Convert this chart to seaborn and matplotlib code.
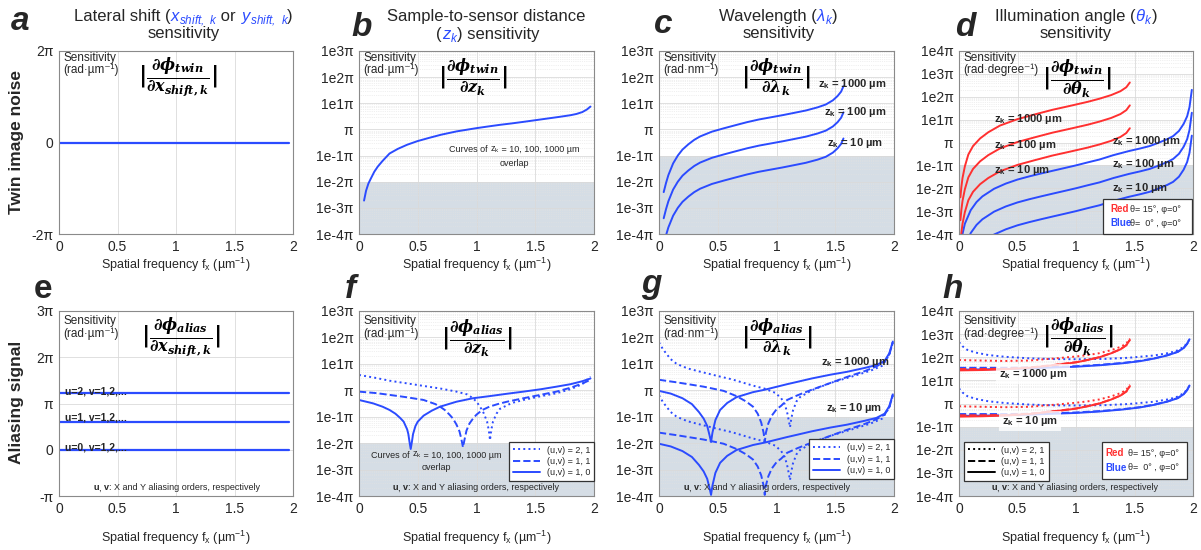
import numpy as np
import matplotlib
matplotlib.use("Agg")
import matplotlib.pyplot as plt
import seaborn as sns
from matplotlib.lines import Line2D
from matplotlib.patches import Rectangle
from matplotlib.ticker import LogLocator, NullFormatter

# ---------------------------------------------------------------- data
# all sensitivities are given in units of pi
FX_LINE = [0.0, 1.97]
TWIN_XSHIFT = [0.0, 0.0]
ALIAS_XSHIFT_U0 = [0.0, 0.0]
ALIAS_XSHIFT_U1 = [0.61, 0.61]
ALIAS_XSHIFT_U2 = [1.22, 1.22]

FX_B = [0.043, 0.06, 0.08, 0.10, 0.13, 0.16, 0.20, 0.26, 0.33, 0.41, 0.50, 0.60, 0.70, 0.83,
        1.00, 1.10, 1.20, 1.30, 1.40, 1.50, 1.60, 1.70, 1.80, 1.85, 1.90, 1.94, 1.97]
TWIN_Z = [0.0019, 0.0045, 0.0085, 0.013, 0.024, 0.038, 0.062, 0.12, 0.18, 0.26, 0.36, 0.48, 0.63, 0.84,
          1.12, 1.3, 1.5, 1.7, 1.95, 2.25, 2.6, 3.0, 3.5, 3.9, 4.6, 5.8, 7.5]

FX_C = [0.04, 0.06, 0.08, 0.12, 0.16, 0.20, 0.25, 0.30, 0.35, 0.45, 0.55, 0.65, 0.75, 0.85,
        0.95, 1.05, 1.15, 1.25, 1.35, 1.42, 1.48, 1.52, 1.55, 1.57]
TWIN_LAM_Z1000 = [4e-3, 9e-3, 1.8e-2, 5e-2, 0.10, 0.17, 0.27, 0.40, 0.54, 0.82, 1.1, 1.45, 1.9, 2.4,
                  2.9, 3.5, 4.3, 5.3, 7.0, 9.0, 13, 19, 28, 45]
TWIN_LAM_Z100 = [4e-4, 9e-4, 1.8e-3, 5e-3, 0.010, 0.017, 0.027, 0.040, 0.054, 0.082, 0.11, 0.145, 0.19, 0.24,
                 0.29, 0.35, 0.43, 0.53, 0.70, 0.90, 1.3, 1.9, 2.8, 4.5]
TWIN_LAM_Z10 = [4e-5, 9e-5, 1.8e-4, 5e-4, 1.0e-3, 1.7e-3, 2.7e-3, 4.0e-3, 5.4e-3, 8.2e-3, 0.011, 0.0145, 0.019, 0.024,
                0.029, 0.035, 0.043, 0.053, 0.070, 0.090, 0.13, 0.19, 0.28, 0.45]

FX_D_RED = [0.012, 0.02, 0.03, 0.05, 0.08, 0.12, 0.18, 0.25, 0.35, 0.50, 0.65, 0.80, 0.95, 1.10,
            1.20, 1.30, 1.38, 1.43, 1.46]
TWIN_TH15_Z1000 = [4e-3, 0.011, 0.028, 0.09, 0.30, 0.70, 1.5, 2.8, 5.5, 10.5, 17, 27, 40, 60,
                   82, 118, 175, 260, 420]
TWIN_TH15_Z100 = [4e-4, 1.1e-3, 2.8e-3, 9e-3, 0.030, 0.070, 0.15, 0.28, 0.55, 1.05, 1.7, 2.7, 4.0, 6.0,
                  8.2, 11.8, 17.5, 26, 42]
TWIN_TH15_Z10 = [4e-5, 1.1e-4, 2.8e-4, 9e-4, 3.0e-3, 7.0e-3, 0.015, 0.028, 0.055, 0.105, 0.17, 0.27, 0.40, 0.60,
                 0.82, 1.18, 1.75, 2.6, 4.2]

FX_D_BLUE = [0.03, 0.05, 0.10, 0.15, 0.20, 0.30, 0.40, 0.50, 0.60, 0.70, 0.80, 0.90, 1.00, 1.10,
             1.20, 1.32, 1.45, 1.55, 1.63, 1.70, 1.78, 1.83, 1.88, 1.92, 1.95, 1.97, 1.99]
TWIN_TH0_Z1000 = [1.0e-4, 2.8e-4, 1.1e-3, 2.5e-3, 4.4e-3, 9.5e-3, 0.016, 0.024, 0.033, 0.044, 0.058, 0.076, 0.10, 0.135,
                  0.18, 0.28, 0.42, 0.55, 0.70, 0.95, 1.4, 1.9, 3.2, 6.5, 14, 35, 200]
TWIN_TH0_Z100 = [1.0e-5, 2.8e-5, 1.1e-4, 2.5e-4, 4.4e-4, 9.5e-4, 1.6e-3, 2.4e-3, 3.3e-3, 4.4e-3, 5.8e-3, 7.6e-3, 0.010, 0.0135,
                 0.018, 0.028, 0.042, 0.055, 0.070, 0.095, 0.14, 0.19, 0.32, 0.65, 1.4, 3.5, 20]
TWIN_TH0_Z10 = [1.0e-6, 2.8e-6, 1.1e-5, 2.5e-5, 4.4e-5, 9.5e-5, 1.6e-4, 2.4e-4, 3.3e-4, 4.4e-4, 5.8e-4, 7.6e-4, 1.0e-3, 1.35e-3,
                1.8e-3, 2.8e-3, 4.2e-3, 5.5e-3, 7.0e-3, 9.5e-3, 0.014, 0.019, 0.032, 0.065, 0.14, 0.35, 2.0]

# aliasing vs. sample-to-sensor distance, orders (u,v)
FX_F_10 = [0, 0.12, 0.20, 0.26, 0.31, 0.35, 0.38, 0.41, 0.42, 0.43, 0.44, 0.45, 0.46, 0.48,
           0.50, 0.55, 0.62, 0.69, 0.83, 0.97, 1.11, 1.25, 1.40, 1.55, 1.68, 1.80, 1.90, 1.97]
ALIAS_Z_10 = [0.43, 0.32, 0.24, 0.18, 0.13, 0.09, 0.065, 0.033, 0.022, 0.011, 0.006, 0.011, 0.022, 0.044,
              0.065, 0.11, 0.17, 0.24, 0.37, 0.50, 0.60, 0.73, 0.89, 1.1, 1.37, 1.7, 2.2, 2.8]
FX_F_11 = [0, 0.15, 0.26, 0.40, 0.55, 0.65, 0.69, 0.73, 0.77, 0.80, 0.83, 0.855, 0.87, 0.885, 0.90,
           0.915, 0.94, 0.97, 1.00, 1.05, 1.11, 1.18, 1.26, 1.40, 1.55, 1.68, 1.80, 1.90, 1.97]
ALIAS_Z_11 = [0.89, 0.78, 0.67, 0.55, 0.43, 0.30, 0.24, 0.18, 0.12, 0.085, 0.05, 0.028, 0.015, 0.007, 0.015,
              0.03, 0.055, 0.085, 0.12, 0.18, 0.24, 0.30, 0.37, 0.50, 0.68, 0.89, 1.25, 1.8, 2.5]
FX_F_21 = [0, 0.15, 0.26, 0.40, 0.55, 0.70, 0.83, 0.92, 0.97, 1.00, 1.03, 1.06, 1.09, 1.105,
           1.115, 1.125, 1.14, 1.17, 1.20, 1.30, 1.40, 1.55, 1.68, 1.80, 1.90, 1.97]
ALIAS_Z_21 = [3.8, 2.9, 2.3, 1.85, 1.46, 1.15, 0.89, 0.70, 0.50, 0.37, 0.24, 0.14, 0.065, 0.03,
              0.013, 0.03, 0.065, 0.13, 0.20, 0.33, 0.43, 0.60, 0.77, 1.1, 1.7, 3.3]

# aliasing vs. wavelength
FX_G_10 = [0, 0.10, 0.20, 0.28, 0.34, 0.38, 0.41, 0.43, 0.443, 0.455, 0.48, 0.52, 0.58, 0.66,
           0.80, 0.90, 1.09, 1.18, 1.30, 1.46, 1.60, 1.75, 1.85, 1.92, 1.96, 1.99]
ALIAS_LAM_10_Z1000 = [0.95, 0.75, 0.50, 0.30, 0.15, 0.085, 0.045, 0.02, 0.011, 0.025, 0.075, 0.18, 0.33, 0.55,
                      0.85, 1.05, 1.7, 2.1, 2.8, 3.9, 5.0, 7.0, 9.0, 13, 25, 70]
ALIAS_LAM_10_Z10 = [0.0095, 0.0075, 0.005, 0.003, 0.0015, 0.00085, 0.00045, 0.0002, 0.00011, 0.00025, 0.00075, 0.0018, 0.0033, 0.0055,
                    0.0085, 0.0105, 0.017, 0.021, 0.028, 0.039, 0.05, 0.07, 0.09, 0.13, 0.25, 0.7]
FX_G_11 = [0, 0.15, 0.38, 0.55, 0.66, 0.74, 0.80, 0.84, 0.87, 0.89, 0.90, 0.91, 0.93, 0.96,
           1.00, 1.04, 1.09, 1.18, 1.30, 1.46, 1.60, 1.75, 1.85, 1.92, 1.96, 1.99]
ALIAS_LAM_11_Z1000 = [2.5, 2.0, 1.37, 0.95, 0.60, 0.38, 0.24, 0.13, 0.06, 0.025, 0.011, 0.025, 0.055, 0.11,
                      0.19, 0.26, 0.43, 0.65, 1.05, 1.9, 3.2, 5.3, 8.0, 12, 23, 65]
ALIAS_LAM_11_Z10 = [0.025, 0.02, 0.0137, 0.0095, 0.006, 0.0038, 0.0024, 0.0013, 0.0006, 0.00025, 0.00011, 0.00025, 0.00055, 0.0011,
                    0.0019, 0.0026, 0.0043, 0.0065, 0.0105, 0.019, 0.032, 0.053, 0.08, 0.12, 0.23, 0.65]
FX_G_21 = [0, 0.03, 0.06, 0.10, 0.15, 0.24, 0.34, 0.52, 0.62, 0.80, 0.90, 0.99, 1.04, 1.07,
           1.09, 1.105, 1.115, 1.125, 1.14, 1.17, 1.20, 1.30, 1.46, 1.65, 1.80, 1.90, 1.96, 1.99]
ALIAS_LAM_21_Z1000 = [65, 38, 25, 15, 10, 6.8, 5.2, 3.3, 2.6, 1.5, 1.15, 0.8, 0.5, 0.3,
                      0.15, 0.07, 0.04, 0.08, 0.17, 0.38, 0.55, 1.0, 1.9, 3.4, 5.5, 8.5, 22, 65]
ALIAS_LAM_21_Z10 = [0.65, 0.38, 0.25, 0.15, 0.10, 0.068, 0.052, 0.033, 0.026, 0.015, 0.0115, 0.008, 0.005, 0.003,
                    0.0015, 0.0007, 0.0004, 0.0008, 0.0017, 0.0038, 0.0055, 0.010, 0.019, 0.034, 0.055, 0.085, 0.22, 0.65]

# aliasing vs. illumination angle
FX_H_BLUE_DOT = [0, 0.03, 0.07, 0.14, 0.25, 0.39, 0.60, 0.82, 1.05, 1.25, 1.45, 1.67, 1.80, 1.87, 1.92, 1.95, 1.97]
H_TH0_21_Z1000 = [450, 300, 210, 160, 125, 105, 90, 83, 82, 85, 95, 120, 155, 200, 280, 400, 600]
H_TH0_21_Z10 = [4.5, 3.0, 2.1, 1.6, 1.25, 1.05, 0.90, 0.83, 0.82, 0.85, 0.95, 1.2, 1.55, 2.0, 2.8, 4.0, 6.0]
FX_H_BLUE = [0, 0.2, 0.4, 0.6, 0.8, 1.0, 1.2, 1.4, 1.55, 1.67, 1.78, 1.87, 1.92, 1.95, 1.97]
H_TH0_10_Z1000 = [29, 30, 31, 33, 36, 39, 45, 55, 68, 88, 120, 170, 250, 380, 600]
H_TH0_11_Z1000 = [35, 35, 35, 36, 38, 41, 47, 57, 70, 90, 123, 173, 255, 385, 600]
H_TH0_10_Z10 = [0.29, 0.30, 0.31, 0.33, 0.36, 0.39, 0.45, 0.55, 0.68, 0.88, 1.2, 1.7, 2.5, 3.8, 6.0]
H_TH0_11_Z10 = [0.35, 0.35, 0.35, 0.36, 0.38, 0.41, 0.47, 0.57, 0.70, 0.90, 1.23, 1.73, 2.55, 3.85, 6.0]
FX_H_RED = [0, 0.2, 0.39, 0.6, 0.82, 1.0, 1.1, 1.2, 1.3, 1.38, 1.43, 1.46]
H_TH15_21_Z1000 = [76, 72, 69, 72, 89, 108, 124, 150, 203, 280, 390, 650]
H_TH15_10_Z1000 = [27, 28, 30, 35, 46, 60, 76, 100, 148, 220, 330, 560]
H_TH15_11_Z1000 = [31, 31, 32, 36, 47, 61, 77, 101, 150, 222, 332, 565]
H_TH15_21_Z10 = [0.76, 0.72, 0.69, 0.72, 0.89, 1.08, 1.24, 1.5, 2.03, 2.8, 3.9, 6.5]
H_TH15_10_Z10 = [0.27, 0.28, 0.30, 0.35, 0.46, 0.60, 0.76, 1.0, 1.48, 2.2, 3.3, 5.6]
H_TH15_11_Z10 = [0.31, 0.31, 0.32, 0.36, 0.47, 0.61, 0.77, 1.01, 1.5, 2.22, 3.32, 5.65]

X_TICKS = [0, 0.5, 1, 1.5, 2]
X_TICK_LABELS = ["0", "0.5", "1", "1.5", "2"]
ORDER_LABELS = ["(u,v) = 2, 1", "(u,v) = 1, 1", "(u,v) = 1, 0"]

# ---------------------------------------------------------------- style
BLUE = "#2b4bff"
RED = "#ff3030"
SHADE = "#d5dde5"
GRID = "#dadada"
SPINE = "#8a8a8a"
TXT = "#262626"

sns.set_theme(style="white")
plt.rcParams["font.family"] = ["Liberation Sans", "DejaVu Sans"]
plt.rcParams["mathtext.fontset"] = "dejavusans"
plt.rcParams["mathtext.rm"] = "DejaVu Serif:bold"
plt.rcParams["mathtext.it"] = "DejaVu Serif:italic:bold"
plt.rcParams["mathtext.bf"] = "DejaVu Serif:bold"
plt.rcParams["axes.unicode_minus"] = False

W, H = 1201, 550
fig = plt.figure(figsize=(W / 100, H / 100), dpi=100)
renderer = fig.canvas.get_renderer()


def fx(x):
    return x / W


def fy(y):
    return 1 - y / H


def add_ax(l, t, r, b):
    return fig.add_axes([fx(l), fy(b), (r - l) / W, (b - t) / H])


def base_style(ax):
    ax.set_xlim(0, 2)
    ax.set_xticks(X_TICKS)
    ax.set_xticklabels(X_TICK_LABELS)
    for s in ax.spines.values():
        s.set_visible(True)
        s.set_color(SPINE)
        s.set_linewidth(0.8)
    ax.tick_params(axis="both", which="major", direction="in", length=3, width=0.6,
                   color=SPINE, labelsize=10, labelcolor=TXT, pad=4)
    ax.tick_params(axis="y", which="minor", direction="in", length=1.5, width=0.4, color=SPINE)
    ax.set_axisbelow(True)
    ax.set_facecolor("white")


def log_style(ax, top_exp, shade_top):
    base_style(ax)
    ax.set_yscale("log")
    ax.set_ylim(1e-4, 10.0 ** top_exp)
    exps = list(range(-4, top_exp + 1))
    ax.set_yticks([10.0 ** k for k in exps])
    ax.set_yticklabels(["π" if k == 0 else f"1e{k}π" for k in exps])
    ax.yaxis.set_minor_locator(LogLocator(base=10, subs=np.arange(2, 10) * 1.0, numticks=30))
    ax.yaxis.set_minor_formatter(NullFormatter())
    ax.axhspan(1e-4, shade_top, color=SHADE, lw=0, zorder=0)
    ax.grid(True, which="major", axis="both", color=GRID, lw=0.6)
    ax.grid(True, which="minor", axis="y", color="#e2e2e2", lw=0.5, ls=":")


def line(ax, x, y, color=BLUE, ls="-", lw=1.4):
    sns.lineplot(x=x, y=y, ax=ax, color=color, linestyle=ls, linewidth=lw,
                 sort=False, estimator=None, errorbar=None)
    ax.set_xlabel("")
    ax.set_ylabel("")


def text_width(s, **kw):
    t = fig.text(0, 0, "|" + s + "|", **kw)
    w1 = t.get_window_extent(renderer).width
    t.remove()
    t = fig.text(0, 0, "||", **kw)
    w0 = t.get_window_extent(renderer).width
    t.remove()
    return w1 - w0


def seg_text(x, y, parts, size, ha="center", va="baseline", zorder=6):
    widths = [text_width(s, fontsize=size, **kw) for s, kw in parts]
    x0 = x - sum(widths) / 2 if ha == "center" else x
    for (s, kw), w in zip(parts, widths):
        fig.text(fx(x0), fy(y), s, fontsize=size, ha="left", va=va, zorder=zorder, **kw)
        x0 += w


BLUE_IT = dict(color=BLUE, style="italic")
BOLD = dict(fontweight="bold")
SUP = "⁻¹"

COLS = [(59, 293), (359, 594), (659, 894), (959, 1193)]
ROW1 = (51, 234)
ROW2 = (311, 496)

axs = [add_ax(l, ROW1[0], r, ROW1[1]) for l, r in COLS] + \
      [add_ax(l, ROW2[0], r, ROW2[1]) for l, r in COLS]
ax_a, ax_b, ax_c, ax_d, ax_e, ax_f, ax_g, ax_h = axs

# ---- a: lateral shift, twin image
base_style(ax_a)
ax_a.set_ylim(-2, 2)
ax_a.set_yticks([-2, 0, 2])
ax_a.set_yticklabels(["-2π", "0", "2π"])
ax_a.grid(True, axis="x", color=GRID, lw=0.6)
line(ax_a, FX_LINE, TWIN_XSHIFT, lw=1.6)

# ---- e: lateral shift, aliasing
base_style(ax_e)
ax_e.set_ylim(-1, 3)
ax_e.set_yticks([-1, 0, 1, 2, 3])
ax_e.set_yticklabels(["-π", "0", "π", "2π", "3π"])
ax_e.grid(True, axis="both", color=GRID, lw=0.6)
for lvl in (ALIAS_XSHIFT_U0, ALIAS_XSHIFT_U1, ALIAS_XSHIFT_U2):
    line(ax_e, FX_LINE, lvl, lw=1.6)

# ---- b: distance, twin image
log_style(ax_b, 3, 1e-2)
line(ax_b, FX_B, TWIN_Z)

# ---- c: wavelength, twin image
log_style(ax_c, 3, 1e-1)
for ys in (TWIN_LAM_Z1000, TWIN_LAM_Z100, TWIN_LAM_Z10):
    line(ax_c, FX_C, ys)

# ---- d: illumination angle, twin image
log_style(ax_d, 4, 1e-1)
for ys in (TWIN_TH0_Z1000, TWIN_TH0_Z100, TWIN_TH0_Z10):
    line(ax_d, FX_D_BLUE, ys, color=BLUE)
for ys in (TWIN_TH15_Z1000, TWIN_TH15_Z100, TWIN_TH15_Z10):
    line(ax_d, FX_D_RED, ys, color=RED)

# ---- f: distance, aliasing
log_style(ax_f, 3, 1e-2)
line(ax_f, FX_F_21, ALIAS_Z_21, ls=":")
line(ax_f, FX_F_11, ALIAS_Z_11, ls="--")
line(ax_f, FX_F_10, ALIAS_Z_10, ls="-")

# ---- g: wavelength, aliasing
log_style(ax_g, 3, 1e-1)
for d21, d11, d10 in ((ALIAS_LAM_21_Z1000, ALIAS_LAM_11_Z1000, ALIAS_LAM_10_Z1000),
                      (ALIAS_LAM_21_Z10, ALIAS_LAM_11_Z10, ALIAS_LAM_10_Z10)):
    line(ax_g, FX_G_21, d21, ls=":")
    line(ax_g, FX_G_11, d11, ls="--")
    line(ax_g, FX_G_10, d10, ls="-")

# ---- h: illumination angle, aliasing
log_style(ax_h, 4, 1e-1)
for d21, d11, d10 in ((H_TH0_21_Z1000, H_TH0_11_Z1000, H_TH0_10_Z1000),
                      (H_TH0_21_Z10, H_TH0_11_Z10, H_TH0_10_Z10)):
    line(ax_h, FX_H_BLUE_DOT, d21, color=BLUE, ls=":")
    line(ax_h, FX_H_BLUE, d10, color=BLUE, ls="-")
    line(ax_h, FX_H_BLUE, d11, color=BLUE, ls="--")
for d21, d11, d10 in ((H_TH15_21_Z1000, H_TH15_11_Z1000, H_TH15_10_Z1000),
                      (H_TH15_21_Z10, H_TH15_11_Z10, H_TH15_10_Z10)):
    line(ax_h, FX_H_RED, d21, color=RED, ls=":")
    line(ax_h, FX_H_RED, d11, color=RED, ls="--")
    line(ax_h, FX_H_RED, d10, color=RED, ls="-")

# ---- legends for the aliasing orders
def order_legend(ax, color, loc, anchor):
    handles = [Line2D([], [], color=color, lw=1.4, ls=s) for s in (":", "--", "-")]
    leg = ax.legend(handles, ORDER_LABELS, loc=loc, bbox_to_anchor=anchor, fontsize=6.5,
                    frameon=True, fancybox=False, framealpha=1, edgecolor="#333333",
                    borderpad=0.45, labelspacing=0.25, handlelength=3.0, handletextpad=0.7,
                    borderaxespad=0)
    leg.get_frame().set_linewidth(0.9)
    leg.set_zorder(10)


order_legend(ax_f, BLUE, "lower right", (1.0, 0.08))
order_legend(ax_g, BLUE, "lower right", (1.0, 0.092))
order_legend(ax_h, "black", "lower left", (0.021, 0.08))

# ---------------------------------------------------------------- annotation text
for ax, unit in zip(axs, ["µm", "µm", "nm", "degree", "µm", "µm", "nm", "degree"]):
    pos = ax.get_position()
    left = pos.x0 * W + 4
    top = (1 - pos.y1) * H
    base = top + (10 if top < 100 else 13)
    fig.text(fx(left), fy(base), "Sensitivity", fontsize=8.5, color=TXT, va="baseline", ha="left")
    fig.text(fx(left), fy(base + 12.5), "(rad·" + unit + SUP + ")", fontsize=8.5, color=TXT,
             va="baseline", ha="left")

FRACTIONS = [
    (178, 78, r"$|\frac{\partial\phi_{twin}}{\partial x_{shift,k}}|$"),
    (473, 78, r"$|\frac{\partial\phi_{twin}}{\partial z_{k}}|$"),
    (776, 78, r"$|\frac{\partial\phi_{twin}}{\partial \lambda_{k}}|$"),
    (1077, 79, r"$|\frac{\partial\phi_{twin}}{\partial \theta_{k}}|$"),
    (181, 338, r"$|\frac{\partial\phi_{alias}}{\partial x_{shift,k}}|$"),
    (477, 339, r"$|\frac{\partial\phi_{alias}}{\partial z_{k}}|$"),
    (777, 338, r"$|\frac{\partial\phi_{alias}}{\partial \lambda_{k}}|$"),
    (1078, 337, r"$|\frac{\partial\phi_{alias}}{\partial \theta_{k}}|$"),
]
for x, y, s in FRACTIONS:
    fig.text(fx(x), fy(y), s, fontsize=16.5, ha="center", va="center", math_fontfamily="custom",
             color="black", zorder=6)

# titles
seg_text(183, 21, [("Lateral shift (", {}), (r"x$_\mathregular{shift,\ k}$", BLUE_IT), (" or ", {}),
                   (r"y$_\mathregular{shift,\ k}$", BLUE_IT), (")", {})], 12)
seg_text(184, 38, [("sensitivity", {})], 12)
seg_text(486, 21, [("Sample-to-sensor distance", {})], 12)
seg_text(488, 39, [("(", {}), (r"z$_\mathregular{k}$", BLUE_IT), (") sensitivity", {})], 12)
seg_text(778, 21, [("Wavelength (", {}), (r"λ$_\mathregular{k}$", BLUE_IT), (")", {})], 12)
seg_text(779, 38, [("sensitivity", {})], 12)
seg_text(1076, 21, [("Illumination angle (", {}), (r"θ$_\mathregular{k}$", BLUE_IT), (")", {})], 12)
seg_text(1076, 38, [("sensitivity", {})], 12)

# panel letters
for x, y, s, st in [(20, 30, "a", "italic"), (362, 36, "b", "italic"), (663, 33, "c", "italic"),
                    (965, 36, "d", "italic"), (43, 298, "e", "normal"), (350, 298, "f", "italic"),
                    (651, 293, "g", "italic"), (953, 298, "h", "italic")]:
    fig.text(fx(x), fy(y), s, fontsize=24, fontweight="bold", style=st, ha="center", va="baseline")

# row labels
fig.text(fx(17), fy(142), "Twin image noise", rotation=90, fontsize=12.5, fontweight="bold",
         ha="center", va="center")
fig.text(fx(17), fy(402), "Aliasing signal", rotation=90, fontsize=12.5, fontweight="bold",
         ha="center", va="center")

# x labels
XLAB = r"Spatial frequency f$_\mathregular{x}$ (µm$^\mathregular{-1}$)"
for (l, r) in COLS:
    fig.text(fx((l + r) / 2), fy(265), XLAB, fontsize=9, color=TXT, ha="center", va="center")
    fig.text(fx((l + r) / 2), fy(538), XLAB, fontsize=9, color=TXT, ha="center", va="center")

# overlap notes
for x, y in [(514, 150), (436, 455)]:
    seg_text(x, y, [("Curves of ", {}), (r"z$_\mathregular{k}$", {}), (" = 10, 100, 1000 µm", {})],
             6.5, va="center")
    fig.text(fx(x), fy(y + 13), "overlap", fontsize=6.5, ha="center", va="center", color=TXT)

# aliasing order note
for x in (177, 476, 767, 1075):
    seg_text(x, 488, [("u", BOLD), (", ", {}), ("v", BOLD), (": X and Y aliasing orders, respectively", {})],
             6.5, va="center")

# e labels
for y, s in [(392, "u=2, v=1,2,..."), (418, "u=1, v=1,2,..."), (447, "u=0, v=1,2,...")]:
    fig.text(fx(65), fy(y), s, fontsize=7.5, fontweight="bold", ha="left", va="center", zorder=6)

ZK = r"z$_\mathregular{k}$"
# c labels
for x, y, v in [(852, 84, "1000"), (855, 112, "100"), (855, 143, "10")]:
    fig.text(fx(x), fy(y), ZK + " = " + v + " µm", fontsize=8, fontweight="bold", ha="center", va="center")
# d labels
for x, y, v in [(1028, 119, "1000"), (1025, 145, "100"), (1022, 170, "10"),
                (1146, 141, "1000"), (1143, 164, "100"), (1140, 188, "10")]:
    fig.text(fx(x), fy(y), ZK + " = " + v + " µm", fontsize=8, fontweight="bold", ha="center", va="center")
# g labels
for x, y, v in [(855, 362, "1000"), (854, 408, "10")]:
    fig.text(fx(x), fy(y), ZK + " = " + v + " µm", fontsize=8, fontweight="bold", ha="center", va="center")
# h labels
for x, y, v in [(1033, 374, "1000"), (1030, 421, "10")]:
    fig.text(fx(x), fy(y), ZK + " = " + v + " µm", fontsize=8, fontweight="bold", ha="center", va="center",
             bbox=dict(boxstyle="square,pad=0.25", fc="white", ec="none", alpha=0.8))


# illumination legend boxes
def angle_box(x0, y0, x1, y1, y_l1, y_l2, x_name, x_col):
    fig.patches.append(Rectangle((fx(x0), fy(y1)), (x1 - x0) / W, (y1 - y0) / H, transform=fig.transFigure,
                                 fc="white", ec="#333333", lw=0.9, zorder=8))
    fig.text(fx(x_name), fy(y_l1), "Red", color=RED, fontweight="bold", fontsize=7, va="center", zorder=9)
    fig.text(fx(x_col), fy(y_l1), "θ= 15°, φ=0°", color=TXT, fontsize=6.5, va="center", zorder=9)
    fig.text(fx(x_name), fy(y_l2), "Blue", color=BLUE, fontweight="bold", fontsize=7, va="center", zorder=9)
    fig.text(fx(x_col), fy(y_l2), "θ=  0° , φ=0°", color=TXT, fontsize=6.5, va="center", zorder=9)


angle_box(1103, 199, 1192, 234, 209, 223, 1110, 1130)
angle_box(1102, 442, 1187, 479, 453, 468, 1105, 1128)

fig.savefig("out.png", dpi=100)
